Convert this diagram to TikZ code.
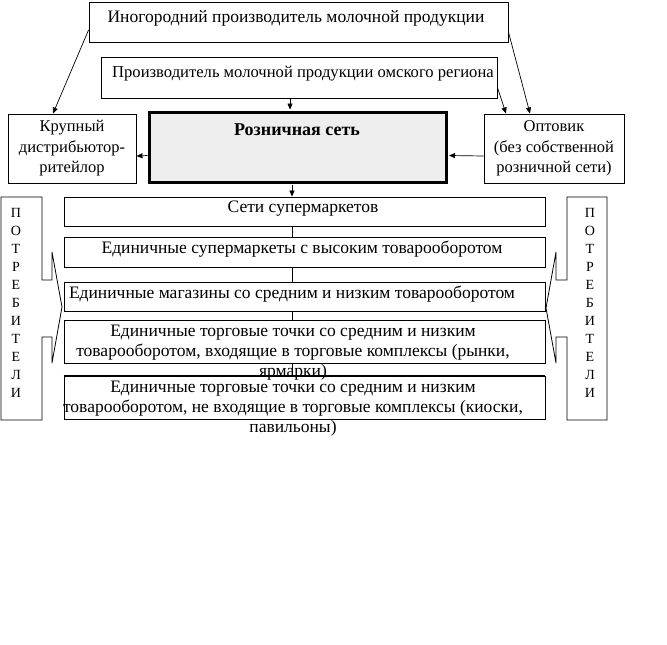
\documentclass[tikz,border=0pt]{standalone}
\usepackage{fontspec}
\setmainfont{Liberation Serif}
\usetikzlibrary{arrows.meta}
\begin{document}
\begin{tikzpicture}[x=1pt,y=-1pt,
  box/.style={draw, line width=0.9pt, inner sep=0pt},
  lbl/.style={inner sep=0pt, align=center, font=\fontsize{17.5}{20}\selectfont},
  sidelbl/.style={inner sep=0pt, align=center, font=\fontsize{16.5}{20.5}\selectfont},
  vlbl/.style={inner sep=0pt, align=center, font=\fontsize{14}{18}\selectfont},
  arr/.style={line width=0.7pt, -{Triangle[length=6pt,width=5pt]}},
  ln/.style={line width=0.8pt}]
\useasboundingbox (0,0) rectangle (667,645);

% top producers
\node[box, minimum width=419pt, minimum height=40pt] (A) at (298.5,22) {};
\node[lbl] (At) at (296,18) {Иногородний производитель молочной продукции};
\node[box, minimum width=396pt, minimum height=41pt] (B) at (299,77.5) {};
\node[lbl, font=\fontsize{16.6}{20}\selectfont] (Bt) at (303,74) {Производитель молочной продукции омского региона};

% middle row
\node[box, minimum width=128pt, minimum height=69pt, sidelbl] (K) at (72,148.5)
  {Крупный\\дистрибьютор-\\ритейлор};
\node[draw, line width=3pt, fill=gray!13, inner sep=0pt, minimum width=297pt, minimum height=70pt] (R) at (297.5,147) {};
\node[inner sep=0pt, font=\bfseries\fontsize{18}{20}\selectfont] (Rt) at (297,130) {Розничная сеть};
\node[box, minimum width=140pt, minimum height=69pt, sidelbl] (O) at (554,148.5)
  {Оптовик\\(без собственной\\розничной сети)};

% arrows from producers
\draw[arr] ([yshift=-8pt]A.west) -- ([xshift=-19pt]K.north);
\draw[arr] ([yshift=-10pt]A.east) -- ([xshift=-24pt]O.north);
\draw[arr] ([yshift=-10pt]B.east) -- ([xshift=-48pt]O.north);
\draw[arr] ([xshift=-9pt]B.south) -- ([xshift=-7.5pt,yshift=1pt]R.north);
\draw[arr] ([yshift=-8.5pt]R.west) -- ([yshift=-7.5pt]K.east);
\draw[arr] ([yshift=-7.5pt]O.west) -- ([yshift=-8.5pt,xshift=1.5pt]R.east);

% retail types
\node[box, minimum width=481pt, minimum height=29pt] (b1) at (304.5,211.5) {};
\node[lbl] (b1t) at (303,209) {Сети супермаркетов};
\node[box, minimum width=481pt, minimum height=30pt] (b2) at (304.5,252) {};
\node[lbl] (b2t) at (302,249) {Единичные супермаркеты с высоким товарооборотом};
\node[box, minimum width=481pt, minimum height=29pt] (b3) at (304.5,296.5) {};
\node[lbl] (b3t) at (292,294) {Единичные магазины со средним и низким товарооборотом};
\node[box, minimum width=481pt, minimum height=43pt] (b4) at (304.5,341.5) {};
\node[box, minimum width=481pt, minimum height=43pt] (b5) at (304.5,397.5) {};

\draw[arr] ([xshift=-5.5pt,yshift=-1pt]R.south) -- ([xshift=-12.5pt]b1.north);
\draw[ln] ([xshift=-12.5pt]b1.south) -- ([xshift=-12.5pt]b2.north);
\draw[ln] ([xshift=-12.5pt]b2.south) -- ([xshift=-12.5pt]b3.north);
\draw[ln] ([xshift=-12.5pt]b3.south) -- ([xshift=-12.5pt]b4.north);
\draw[ln] ([xshift=-12.5pt]b4.south) -- ([xshift=-12.5pt]b5.north);

\node[lbl, anchor=north] (b4t) at (293,324.5) {Единичные торговые точки со средним и низким\\товарооборотом, входящие в торговые комплексы (рынки,\\ярмарки)};
\node[lbl, anchor=north] (b5t) at (293,380.5) {Единичные торговые точки со средним и низким\\товарооборотом, не входящие в торговые комплексы (киоски,\\павильоны)};
\draw[ln] (b5.north west) -- (b5.north east);

% consumers
\draw[ln] (1,197) -- (42,197) -- (42,280) -- (52,280) -- (52,252) -- (62,307)
  -- (52,363) -- (52,337) -- (42,337) -- (42,420) -- (1,420) -- cycle;
\draw[ln] (607,197) -- (567,197) -- (567,280) -- (556,280) -- (556,252) -- (546,308)
  -- (556,363) -- (556,337) -- (567,337) -- (567,420) -- (607,420) -- cycle;
\node[vlbl] (cL) at (16,303) {П\\О\\Т\\Р\\Е\\Б\\И\\Т\\Е\\Л\\И};
\node[vlbl] (cR) at (590,303) {П\\О\\Т\\Р\\Е\\Б\\И\\Т\\Е\\Л\\И};
\end{tikzpicture}
\end{document}
